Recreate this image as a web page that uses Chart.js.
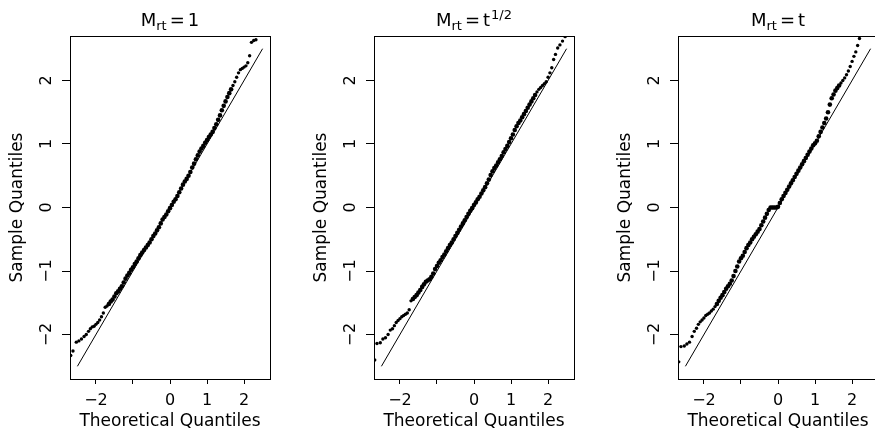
<!DOCTYPE html>
<html>
<head>
<meta charset="utf-8">
<script src="https://cdn.jsdelivr.net/npm/chart.js@4.4.0/dist/chart.umd.min.js"></script>
<style>
  html, body { margin: 0; padding: 0; background: #fff; overflow: hidden; }
  #wrap { position: relative; width: 875px; height: 439px; overflow: hidden; }
  .panel { position: absolute; top: 0; width: 304px; height: 439px; }
</style>
</head>
<body>
<div id="wrap">
  <div class="panel" style="left:0"><canvas id="c1" width="304" height="439"></canvas></div>
  <div class="panel" style="left:304px"><canvas id="c2" width="304" height="439"></canvas></div>
  <div class="panel" style="left:608px"><canvas id="c3" width="304" height="439"></canvas></div>
</div>
<script>
// theoretical quantiles (x), shared by the three panels
const theoQ = [
  -2.68, -2.62, -2.53, -2.46, -2.39, -2.32, -2.26, -2.20, -2.15, -2.10, -2.05, -2.00, -1.95, -1.90, -1.85, -1.80, -1.75, -1.70,
  -1.65, -1.60, -1.55, -1.50, -1.45, -1.40, -1.35, -1.30, -1.25, -1.20, -1.15, -1.10, -1.05, -1.00, -0.95, -0.90, -0.85, -0.80,
  -0.75, -0.70, -0.65, -0.60, -0.55, -0.50, -0.45, -0.40, -0.35, -0.30, -0.25, -0.20, -0.15, -0.10, -0.05,
  0.00,
  0.05, 0.10, 0.15, 0.20, 0.25, 0.30, 0.35, 0.40, 0.45, 0.50, 0.55, 0.60, 0.65, 0.70, 0.75, 0.80, 0.85, 0.90, 0.95, 1.00,
  1.05, 1.10, 1.15, 1.20, 1.25, 1.30, 1.35, 1.40, 1.45, 1.50, 1.55, 1.60, 1.65,
  1.70, 1.75, 1.80, 1.85, 1.90, 1.95, 2.00, 2.05, 2.10, 2.15, 2.20, 2.26, 2.32, 2.39, 2.46, 2.53, 2.62, 2.68
];

// sample quantiles, M_rt = 1
const sampleConst = [
  -2.33, -2.26, -2.12, -2.10, -2.07, -2.03, -2.00, -1.95, -1.91, -1.88, -1.87, -1.84, -1.81, -1.77, -1.72, -1.66, -1.57, -1.55,
  -1.52, -1.48, -1.45, -1.40, -1.35, -1.32, -1.28, -1.24, -1.18, -1.12, -1.07, -1.03, -0.98, -0.94, -0.89, -0.85, -0.80, -0.75,
  -0.71, -0.67, -0.63, -0.59, -0.55, -0.50, -0.45, -0.41, -0.36, -0.31, -0.25, -0.19, -0.15, -0.11, -0.06,
  -0.01,
  0.04, 0.09, 0.13, 0.18, 0.24, 0.30, 0.36, 0.41, 0.45, 0.50, 0.56, 0.63, 0.69, 0.76, 0.82, 0.88, 0.93, 0.97, 1.02, 1.06,
  1.11, 1.15, 1.19, 1.25, 1.31, 1.38, 1.45, 1.53, 1.60, 1.67, 1.74, 1.80, 1.86,
  1.92, 1.98, 2.05, 2.12, 2.17, 2.19, 2.21, 2.23, 2.28, 2.39, 2.60, 2.63, 2.64, null, null, null, null, null
];

// sample quantiles, M_rt = t^(1/2)
const sampleSqrt = [
  -2.40, -2.14, -2.13, -2.07, -2.05, -2.00, -1.93, -1.91, -1.86, -1.81, -1.78, -1.75, -1.72, -1.70, -1.68, -1.66, -1.61, -1.47,
  -1.44, -1.41, -1.38, -1.34, -1.30, -1.25, -1.21, -1.17, -1.15, -1.13, -1.09, -1.04, -0.97, -0.92, -0.87, -0.83, -0.78, -0.74,
  -0.69, -0.64, -0.59, -0.55, -0.50, -0.45, -0.40, -0.35, -0.30, -0.25, -0.20, -0.15, -0.10, -0.05, -0.01,
  0.04,
  0.08, 0.13, 0.17, 0.22, 0.27, 0.32, 0.38, 0.44, 0.51, 0.57, 0.62, 0.66, 0.71, 0.76, 0.81, 0.87, 0.92, 0.97, 1.03, 1.09,
  1.15, 1.22, 1.28, 1.33, 1.37, 1.42, 1.47, 1.52, 1.57, 1.62, 1.67, 1.72, 1.77,
  1.82, 1.86, 1.89, 1.92, 1.95, 1.98, 2.05, 2.12, 2.20, 2.33, 2.41, 2.51, 2.56, 2.62, 2.69, null, null, null
];

// sample quantiles, M_rt = t
const sampleLinear = [
  -2.43, -2.19, -2.18, -2.15, -2.12, -2.03, -1.95, -1.90, -1.84, -1.80, -1.77, -1.74, -1.70, -1.68, -1.66, -1.63, -1.60, -1.56,
  -1.52, -1.47, -1.42, -1.38, -1.33, -1.28, -1.24, -1.20, -1.15, -1.08, -1.00, -0.93, -0.85, -0.80, -0.76, -0.70, -0.64, -0.59,
  -0.55, -0.50, -0.46, -0.42, -0.38, -0.34, -0.28, -0.22, -0.16, -0.10, -0.04, 0.00, 0.00, 0.00, 0.00,
  0.01,
  0.07, 0.13, 0.18, 0.23, 0.28, 0.33, 0.38, 0.43, 0.48, 0.53, 0.58, 0.63, 0.68, 0.73, 0.78, 0.83, 0.88, 0.93, 0.98, 1.01,
  1.05, 1.12, 1.19, 1.26, 1.33, 1.40, 1.50, 1.62, 1.72, 1.78, 1.84, 1.88, 1.92,
  1.96, 2.00, 2.04, 2.09, 2.15, 2.22, 2.30, 2.38, 2.45, 2.55, 2.66, null, null, null, null, null, null, null
];

const refLine = [-2.5, 2.5];
const axisTicks = [-2, -1, 0, 1, 2];
const xTickLabels = ['\u22122', '', '0', '1', '2'];
const yTickLabels = ['\u22122', '\u22121', '0', '1', '2'];

const FONT = 'DejaVu Sans';
Chart.defaults.font.family = FONT;
Chart.defaults.color = '#000';

// panel title: M with subscript rt, "=", right side, optional superscript
const mathTitle = {
  id: 'mathTitle',
  afterDraw(chart, args, opts) {
    const { ctx, chartArea } = chart;
    const parts = [
      { text: 'M', size: 18, rise: 0, gap: 0 },
      { text: 'rt', size: 13, rise: -4, gap: 0 },
      { text: '=', size: 18, rise: 0, gap: 3 },
      { text: opts.rhs, size: 18, rise: 0, gap: 3 }
    ];
    if (opts.sup) parts.push({ text: opts.sup, size: 13, rise: 7, gap: 1 });
    ctx.save();
    ctx.fillStyle = '#000';
    ctx.textBaseline = 'alphabetic';
    let total = 0;
    parts.forEach(p => {
      ctx.font = p.size + 'px "' + FONT + '"';
      p.w = ctx.measureText(p.text).width;
      total += p.gap + p.w;
    });
    let x = (chartArea.left + chartArea.right) / 2 - total / 2;
    parts.forEach(p => {
      x += p.gap;
      ctx.font = p.size + 'px "' + FONT + '"';
      ctx.fillText(p.text, x, 26 - p.rise);
      x += p.w;
    });
    ctx.restore();
  }
};

// box around the plot region
const frame = {
  id: 'frame',
  afterDraw(chart) {
    const { ctx, chartArea: a } = chart;
    ctx.save();
    ctx.strokeStyle = '#000';
    ctx.lineWidth = 1;
    ctx.strokeRect(Math.round(a.left) + 0.5, Math.round(a.top) + 0.5,
      Math.round(a.right - a.left), Math.round(a.bottom - a.top));
    ctx.restore();
  }
};

// dense middle of the sample reads as a solid band, tails as single dots
function dotSize(ctx) {
  const p = ctx.raw;
  return p && Math.abs(p.x) <= 1.66 ? 2.3 : 1.7;
}

function makePanel(id, sample, rhs, sup) {
  const points = [];
  theoQ.forEach((q, i) => {
    if (sample[i] !== null) points.push({ x: q, y: sample[i] });
  });

  return new Chart(document.getElementById(id), {
    type: 'scatter',
    data: {
      datasets: [
        {
          data: points,
          pointRadius: dotSize,
          pointHoverRadius: dotSize,
          pointBackgroundColor: '#000',
          pointBorderWidth: 0,
          clip: 0
        },
        {
          type: 'line',
          data: refLine.map(v => ({ x: v, y: v })),
          borderColor: '#000',
          borderWidth: 1,
          pointRadius: 0,
          fill: false,
          clip: 0
        }
      ]
    },
    options: {
      responsive: false,
      animation: false,
      events: [],
      layout: { padding: { top: 36, right: 34, bottom: 0, left: 0 } },
      plugins: {
        legend: { display: false },
        tooltip: { enabled: false },
        mathTitle: { rhs: rhs, sup: sup }
      },
      scales: {
        x: {
          type: 'linear',
          min: -2.7,
          max: 2.7,
          afterBuildTicks: s => { s.ticks = axisTicks.map(v => ({ value: v })); },
          afterFit: s => { s.height = 60; },
          border: { display: false },
          grid: { drawOnChartArea: false, drawTicks: true, tickLength: 5, color: '#000', lineWidth: 1 },
          ticks: {
            autoSkip: false,
            maxRotation: 0,
            padding: 7,
            font: { size: 16 },
            color: '#000',
            callback: v => xTickLabels[axisTicks.indexOf(v)]
          },
          title: {
            display: true,
            text: 'Theoretical Quantiles',
            font: { size: 17 },
            color: '#000',
            padding: { top: 0, bottom: 7 }
          }
        },
        y: {
          type: 'linear',
          min: -2.7,
          max: 2.7,
          afterBuildTicks: s => { s.ticks = axisTicks.map(v => ({ value: v })); },
          afterFit: s => { s.width = 70; },
          border: { display: false },
          grid: { drawOnChartArea: false, drawTicks: true, tickLength: 8, color: '#000', lineWidth: 1 },
          ticks: {
            autoSkip: false,
            minRotation: 90,
            maxRotation: 90,
            crossAlign: 'center',
            padding: 3,
            font: { size: 16 },
            color: '#000',
            callback: v => yTickLabels[axisTicks.indexOf(v)]
          },
          title: {
            display: true,
            text: 'Sample Quantiles',
            font: { size: 17 },
            color: '#000',
            padding: { top: 7, bottom: 0 }
          }
        }
      }
    },
    plugins: [frame, mathTitle]
  });
}

makePanel('c1', sampleConst, '1', '');
makePanel('c2', sampleSqrt, 't', '1/2');
makePanel('c3', sampleLinear, 't', '');
</script>
</body>
</html>
